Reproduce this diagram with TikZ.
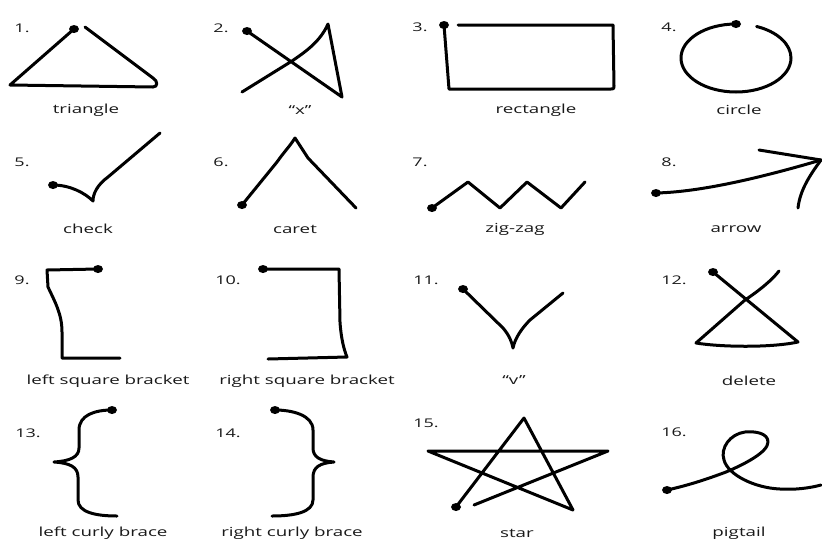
\documentclass[tikz,border=0pt]{standalone}
\usepackage{fontspec}
\newfontfamily\lblfont[FakeStretch=1.5]{Open Sans}
\definecolor{txt}{RGB}{25,25,25}
\begin{document}
\begin{tikzpicture}[x=1pt,y=-1pt,
  stroke/.style={line width=3pt,line cap=round,line join=round,black},
  startdot/.style={fill=black},
  lbl/.style={inner sep=0pt,text=txt,font=\lblfont\fontsize{12.5}{14}\selectfont},
  num/.style={inner sep=0pt,text=txt,font=\lblfont\fontsize{12}{14}\selectfont}]
\useasboundingbox (0,0) rectangle (822,539);
% ---------- row 1 ----------
\node[num] (n1) at (22,28) {1.};
\fill[startdot] (74,29) ellipse[x radius=5,y radius=4];
\draw[stroke] (74,29) -- (10,85) -- (153,87) .. controls (158,87) and (158,81) .. (153,78) -- (85,27);
\node[lbl] (l1) at (86,110) {triangle};

\node[num] (n2) at (221,28) {2.};
\fill[startdot] (247,31) ellipse[x radius=5,y radius=4];
\draw[stroke] (247,31) -- (342,97) -- (328,24) .. controls (320,42) and (305,52) .. (292,61) -- (242,92);
\node[lbl] (l2) at (300,110) {“x”};

\node[num] (n3) at (420,27) {3.};
\fill[startdot] (444,25) ellipse[x radius=5,y radius=4];
\draw[stroke] (444,25) -- (449,89) -- (611,89) .. controls (614,89) .. (614,86) -- (613,25) -- (458,25);
\node[lbl] (l3) at (536,110) {rectangle};

\node[num] (n4) at (669,27) {4.};
\fill[startdot] (736,24) ellipse[x radius=5,y radius=4];
\draw[stroke] (736,24) arc[start angle=270,end angle=-68,x radius=55,y radius=34];
\node[lbl] (l4) at (739,110) {circle};
% ---------- row 2 ----------
\node[num] (n5) at (22,162) {5.};
\fill[startdot] (53,185) ellipse[x radius=5,y radius=4];
\draw[stroke] (53,185) .. controls (70,185) and (85,193) .. (93,201) .. controls (93,194) and (97,185) .. (108,177) -- (160,133);
\node[lbl] (l5) at (88,229) {check};

\node[num] (n6) at (221,162) {6.};
\fill[startdot] (242,205) ellipse[x radius=5,y radius=4];
\draw[stroke] (242,205) -- (277,162) .. controls (284,152) and (290,146) .. (295,138) -- (308,158) -- (356,208);
\node[lbl] (l6) at (295,229) {caret};

\node[num] (n7) at (420,162) {7.};
\fill[startdot] (432,208) ellipse[x radius=5,y radius=4];
\draw[stroke] (432,208) -- (468,182) -- (500,208) -- (527,182) -- (561,208) -- (585,182);
\node[lbl] (l7) at (515,229) {zig-zag};

\node[num] (n8) at (669,162) {8.};
\fill[startdot] (656,193) ellipse[x radius=5,y radius=4];
\draw[stroke] (656,193) .. controls (700,192) and (760,178) .. (821,160);
\draw[stroke] (759,150) -- (821,160) .. controls (810,175) and (800,190) .. (798,208);
\node[lbl] (l8) at (736,229) {arrow};
% ---------- row 3 ----------
\node[num] (n9) at (22,280) {9.};
\fill[startdot] (98,269) ellipse[x radius=5,y radius=4];
\draw[stroke] (98,269) -- (47,270) -- (48,287) .. controls (55,302) and (62,314) .. (62,332) -- (62,358) -- (120,358);
\node[lbl] (l9) at (108,381) {left square bracket};

\node[num] (n10) at (228,280) {10.};
\fill[startdot] (263,269) ellipse[x radius=5,y radius=4];
\draw[stroke] (263,269) -- (339,269) -- (340,322) .. controls (341,338) and (344,350) .. (347,357) -- (268,359);
\node[lbl] (l10) at (307,381) {right square bracket};

\node[num] (n11) at (426,280) {11.};
\fill[startdot] (463,289) ellipse[x radius=5,y radius=4];
\draw[stroke] (463,289) -- (503,328) .. controls (509,335) and (512,342) .. (513,348) .. controls (515,338) and (522,328) .. (530,320) -- (563,293);
\node[lbl] (l11) at (514,380) {“v”};

\node[num] (n12) at (674,280) {12.};
\fill[startdot] (713,272) ellipse[x radius=5,y radius=4];
\draw[stroke] (713,272) -- (798,342) .. controls (770,348) and (720,347) .. (696,343) -- (745,300) .. controls (760,290) and (772,280) .. (779,271);
\node[lbl] (l12) at (749,381) {delete};
% ---------- row 4 ----------
\node[num] (n13) at (28,433) {13.};
\fill[startdot] (112,410) ellipse[x radius=5,y radius=4];
\draw[stroke] (112,410) .. controls (95,410) and (79,415) .. (79,430) -- (79,448) .. controls (79,457) and (70,461) .. (54,462) .. controls (70,463) and (78,467) .. (78,477) -- (78,500) .. controls (78,512) and (95,516) .. (117,516);
\node[lbl] (l13) at (103,533) {left curly brace};

\node[num] (n14) at (228,433) {14.};
\fill[startdot] (275,410) ellipse[x radius=5,y radius=4];
\draw[stroke] (275,410) .. controls (292,410) and (313,415) .. (313,430) -- (313,448) .. controls (313,457) and (320,461) .. (334,462) .. controls (320,463) and (313,467) .. (313,477) -- (313,500) .. controls (313,512) and (295,516) .. (272,516);
\node[lbl] (l14) at (292,533) {right curly brace};

\node[num] (n15) at (426,423) {15.};
\fill[startdot] (456,507) ellipse[x radius=5,y radius=4];
\draw[stroke] (456,507) -- (524,418) -- (573,510) -- (428,451) -- (608,451) -- (474,505);
\node[lbl] (l15) at (517,533) {star};

\node[num] (n16) at (674,432) {16.};
\fill[startdot] (667,490) ellipse[x radius=5,y radius=4];
\draw[stroke] (667,490) .. controls (690,485) and (710,478) .. (726,472) .. controls (745,464) and (768,452) .. (768,442) .. controls (768,433) and (755,431) .. (745,432) .. controls (730,434) and (720,448) .. (724,460) .. controls (728,475) and (755,488) .. (780,489) .. controls (795,490) and (810,488) .. (821,485);
\node[lbl] (l16) at (739,533) {pigtail};
\end{tikzpicture}
\end{document}
